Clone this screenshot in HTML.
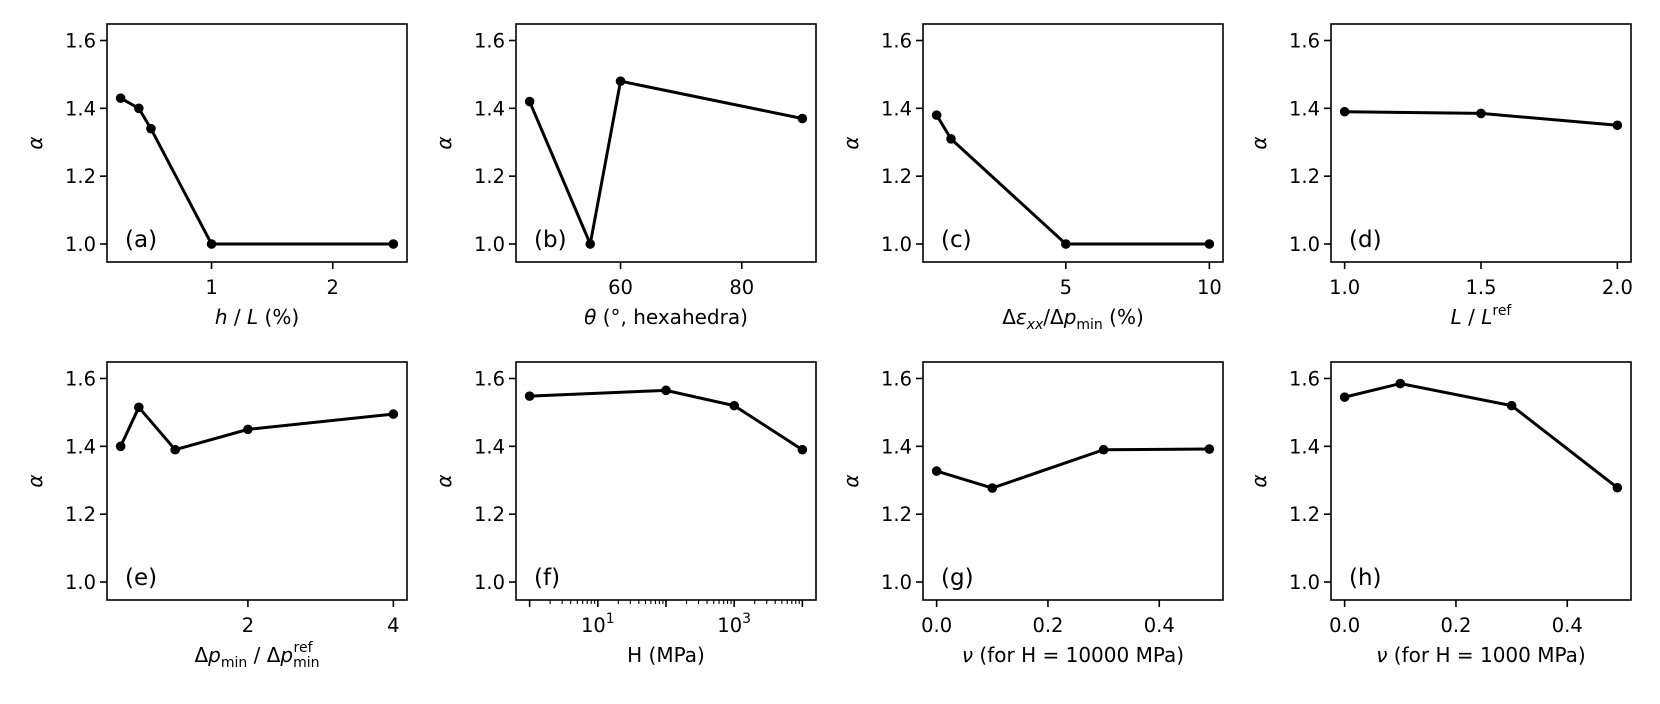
<!DOCTYPE html>
<html><head><meta charset="utf-8"><style>
body{margin:0;background:#fff}
svg{display:block}
svg text{font-family:"DejaVu Sans","Liberation Sans",sans-serif;fill:#000}
</style></head><body>
<svg id="fig" width="1660" height="704" viewBox="0 0 1660 704"></svg>
<script>
// Data arrays
const xA=[0.25,0.4,0.5,1,2.5], yA=[1.43,1.40,1.34,1.0,1.0];
const xB=[45,55,60,90], yB=[1.42,1.0,1.48,1.37];
const xC=[0.5,1,5,10], yC=[1.38,1.31,1.0,1.0];
const xD=[1.0,1.5,2.0], yD=[1.39,1.385,1.35];
const xE=[0.25,0.5,1,2,4], yE=[1.40,1.515,1.39,1.45,1.495];
const xF=[1,100,1000,10000], yF=[1.548,1.565,1.52,1.39];
const xG=[0,0.1,0.3,0.49], yG=[1.327,1.277,1.39,1.392];
const xH=[0,0.1,0.3,0.49], yH=[1.545,1.585,1.52,1.278];
const yTicks=[1.0,1.2,1.4,1.6];
const yTickLabels=["1.0","1.2","1.4","1.6"];
const ticksA=[1,2], ticksB=[60,80], ticksC=[5,10], ticksD=[1.0,1.5,2.0], ticksE=[2,4], ticksF=[10,1000], ticksG=[0,0.2,0.4], ticksH=[0,0.2,0.4];
const labsA=["1","2"], labsB=["60","80"], labsC=["5","10"], labsD=["1.0","1.5","2.0"], labsE=["2","4"], labsF=["10<tspan dy='-9' font-size='14'>1</tspan>","10<tspan dy='-9' font-size='14'>3</tspan>"], labsG=["0.0","0.2","0.4"], labsH=["0.0","0.2","0.4"];

const NS="http://www.w3.org/2000/svg";
const svg=document.getElementById('fig');
function mk(tag,attrs,parent){const e=document.createElementNS(NS,tag);for(const k in attrs)e.setAttribute(k,attrs[k]);(parent||svg).appendChild(e);return e;}
const lefts=[107,516,923,1331], tops=[24,362], W=300, H=238;
const YMIN=0.947, YMAX=1.6486;
const panels=[
 {x:xA,y:yA,t:ticksA,l:labsA,tag:"(a)",xl:"<tspan font-style='italic'>h</tspan> / <tspan font-style='italic'>L</tspan> (%)"},
 {x:xB,y:yB,t:ticksB,l:labsB,tag:"(b)",xl:"<tspan font-style='italic'>θ</tspan> (°, hexahedra)"},
 {x:xC,y:yC,t:ticksC,l:labsC,tag:"(c)",xl:"Δ<tspan font-style='italic'>ε</tspan><tspan font-style='italic' font-size='14' dy='5'>xx</tspan><tspan dy='-5'>/Δ</tspan><tspan font-style='italic'>p</tspan><tspan font-size='14' dy='5'>min</tspan><tspan dy='-5'> (%)</tspan>"},
 {x:xD,y:yD,t:ticksD,l:labsD,tag:"(d)",xl:"<tspan font-style='italic'>L</tspan> / <tspan font-style='italic'>L</tspan><tspan font-size='14' dy='-9'>ref</tspan>"},
 {x:xE,y:yE,t:ticksE,l:labsE,tag:"(e)",xl:"Δ<tspan font-style='italic'>p</tspan><tspan font-size='14' dy='5'>min</tspan><tspan dy='-5'> / Δ</tspan><tspan font-style='italic'>p</tspan><tspan font-size='14' dy='5'>min</tspan><tspan font-size='14' dx='-26' dy='-15'>ref</tspan>"},
 {x:xF,y:yF,t:ticksF,l:labsF,tag:"(f)",xl:"H (MPa)",log:true},
 {x:xG,y:yG,t:ticksG,l:labsG,tag:"(g)",xl:"<tspan font-style='italic'>ν</tspan> (for H = 10000 MPa)"},
 {x:xH,y:yH,t:ticksH,l:labsH,tag:"(h)",xl:"<tspan font-style='italic'>ν</tspan> (for H = 1000 MPa)"}
];
const names="abcdefgh";
panels.forEach((p,i)=>{
 const L=lefts[i%4], T=tops[Math.floor(i/4)];
 const g=mk('g',{});
 
 
 const tf=p.log?Math.log10:(v=>v);
 const xs=p.x.map(tf); let mn=Math.min(...xs), mx=Math.max(...xs), m=(mx-mn)*0.05; mn-=m; mx+=m;
 const sx=v=>L+(tf(v)-mn)/(mx-mn)*W;
 const sy=v=>T+H-(v-YMIN)/(YMAX-YMIN)*H;
 yTicks.forEach((v,k)=>{const y=sy(v);
  mk('line',{x1:L-7,x2:L,y1:y,y2:y,stroke:'#000','stroke-width':1.6},g);
  const t=mk('text',{x:L-11,y:y+7,'text-anchor':'end','font-size':19.5},g);t.textContent=yTickLabels[k];
  
  
 });
 p.t.forEach((v,k)=>{const x=sx(v);
  mk('line',{x1:x,x2:x,y1:T+H,y2:T+H+7,stroke:'#000','stroke-width':1.6},g);
  const t=mk('text',{x:x,y:T+H+32,'text-anchor':'middle','font-size':19.5},g);t.innerHTML=p.l[k];
  
  
 });
 if(p.log){for(let d=0;d<5;d++)for(let k=2;k<10;k++){const v=k*Math.pow(10,d);const lv=Math.log10(v);if(lv<mn||lv>mx)continue;const x=sx(v);
  mk('line',{x1:x,x2:x,y1:T+H,y2:T+H+4,stroke:'#000','stroke-width':1.1},g);}
  [1,100,10000].forEach(v=>{const x=sx(v);mk('line',{x1:x,x2:x,y1:T+H,y2:T+H+7,stroke:'#000','stroke-width':1.6},g);});
 }
 const yl=mk('text',{x:0,y:0,'font-size':20,'font-style':'italic','text-anchor':'middle',transform:`translate(${L-65},${T+H/2}) rotate(-90)`},g);
 yl.textContent='α';
 
 
 const xl=mk('text',{x:L+W/2,y:T+H+62,'text-anchor':'middle','font-size':20},g);xl.innerHTML=p.xl;
 
 
 const pts=p.x.map((v,k)=>sx(v)+','+sy(p.y[k])).join(' ');
 const pl=mk('polyline',{points:pts,fill:'none',stroke:'#000','stroke-width':3},g);
 
 
 p.x.forEach((v,k)=>{const c=mk('circle',{cx:sx(v),cy:sy(p.y[k]),r:4.8,fill:'#000'},g);
  
  
 });
 const tg=mk('text',{x:L+18,y:T+H-15,'font-size':23},g);tg.textContent=p.tag;
 
 
 const fr=mk('rect',{x:L,y:T,width:W,height:H,fill:'none',stroke:'#000','stroke-width':1.6},g);
 
 
});
</script>
</body></html>
